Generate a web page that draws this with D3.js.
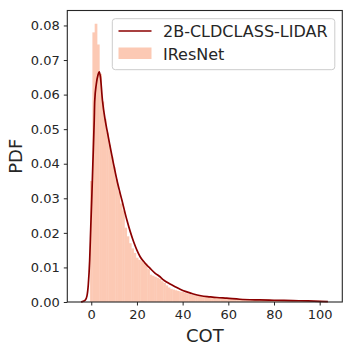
<!DOCTYPE html>
<html><head><meta charset="utf-8">
<script src="https://cdn.jsdelivr.net/npm/d3@7"></script>
<style>body{margin:0;background:#fff;} svg{display:block;}</style>
</head><body>
<svg id="chart" width="352" height="352"></svg>
<script>
// Histogram (IResNet): bins of width 1 centered on integer COT values 0..100
const histCenters = d3.range(0, 101);
const histHeights = [
 0.035,0.078,0.0805,0.0745,0.066,0.058,0.053,0.049,0.0455,0.042,
 0.039,0.0355,0.032,0.0285,0.0265,0.0215,0.019,0.017,0.0155,0.0142,
 0.0128,0.0122,0.0118,0.0114,0.0111,0.0095,0.0079,0.0076,0.0073,0.007,
 0.0067,0.006,0.0055,0.0048,0.0042,0.0038,0.0036,0.0034,0.0032,0.003,
 0.0029,0.0027,0.0025,0.0023,0.0021,0.002,0.0019,0.0018,0.0017,0.0016,
 0.0015,0.0014,0.0014,0.0013,0.0013,0.0012,0.0012,0.0011,0.0011,0.0011,
 0.001,0.001,0.001,0.001,0.0009,0.0009,0.0009,0.0009,0.0008,0.0008,
 0.0008,0.0008,0.0008,0.0007,0.0007,0.0007,0.0007,0.0007,0.0007,0.0006,
 0.0006,0.0006,0.0006,0.0006,0.0006,0.0006,0.0005,0.0005,0.0005,0.0005,
 0.0005,0.0005,0.0005,0.0005,0.0004,0.0004,0.0004,0.0004,0.0004,0.0004,0.0004
];
// KDE line (2B-CLDCLASS-LIDAR)
const kdeX = [-4.5,-3.5,-2.6,-1.9,-1.3,-0.7,-0.2,0.2,0.7,1.3,1.5,2.2,3.0,3.5,4.0,4.9,6.1,6.9,8.3,9.7,11.5,13.4,15.6,18.5,21.4,23.5,25.8,28,30.1,31.6,34.5,36.5,38.9,41.5,44.7,48,52,55,59.3,65,73.8,80,88.2,95,100,103.6];
const kdeY = [0,0.0002,0.0006,0.0017,0.005,0.012,0.022,0.0295,0.040,0.0526,0.058,0.063,0.0658,0.0666,0.0652,0.0583,0.0526,0.0497,0.0448,0.0401,0.0345,0.0295,0.0237,0.0175,0.0131,0.0113,0.0097,0.0083,0.0073,0.0064,0.0052,0.0045,0.0037,0.0030,0.0023,0.0018,0.0015,0.0013,0.0011,0.0008,0.0006,0.0005,0.0004,0.0003,0.0002,0.0001];
const xTicks = [0,20,40,60,80,100];
const yTicks = [0,0.01,0.02,0.03,0.04,0.05,0.06,0.07,0.08];
const seriesNames = ["2B-CLDCLASS-LIDAR","IResNet"];

const svg = d3.select("#chart");
const L = 67.3, T = 10.5, R = 342.3, B = 302;
const x = d3.scaleLinear().domain([-10.49, 109.9]).range([L, R]);
const y = d3.scaleLinear().domain([0, 0.08433]).range([B, T]);

const font = "'DejaVu Sans', sans-serif";
const histColor = "#fcc9b4";
const lineColor = "#8b0000";

// histogram bars
svg.append("g").selectAll("rect").data(histCenters).join("rect")
  .attr("x", d => x(d - 0.5))
  .attr("width", d => x(d + 0.5) - x(d - 0.5) + 0.4)
  .attr("y", (d, i) => y(histHeights[i]))
  .attr("height", (d, i) => y(0) - y(histHeights[i]))
  .attr("fill", histColor);

// KDE line
const pts = kdeX.map((v, i) => [v, kdeY[i]]);
svg.append("path").datum(pts)
  .attr("d", d3.line().x(d => x(d[0])).y(d => y(d[1])).curve(d3.curveMonotoneX))
  .attr("fill", "none").attr("stroke", lineColor).attr("stroke-width", 1.7);

// axes
const xAxis = svg.append("g").attr("transform", `translate(0,${B})`)
  .call(d3.axisBottom(x).tickValues(xTicks).tickSize(3.5).tickPadding(4).tickFormat(d3.format("d")));
const yAxis = svg.append("g").attr("transform", `translate(${L},0)`)
  .call(d3.axisLeft(y).tickValues(yTicks).tickSize(3.5).tickPadding(4).tickFormat(d3.format(".2f")));
[xAxis, yAxis].forEach(g => {
  g.select(".domain").remove();
  g.selectAll(".tick line").attr("stroke", "#262626").attr("stroke-width", 1);
  g.selectAll(".tick text").attr("font-family", font).attr("font-size", 13).attr("fill", "#262626");
});
// spines
svg.append("rect").attr("x", L).attr("y", T).attr("width", R - L).attr("height", B - T)
  .attr("fill", "none").attr("stroke", "#262626").attr("stroke-width", 1.1);

// axis labels
svg.append("text").attr("x", (L + R) / 2).attr("y", 342).attr("text-anchor", "middle")
  .attr("font-family", font).attr("font-size", 18).attr("fill", "#262626").text("COT");
svg.append("text").attr("transform", `translate(22,${(T + B) / 2}) rotate(-90)`).attr("text-anchor", "middle")
  .attr("font-family", font).attr("font-size", 18).attr("fill", "#262626").text("PDF");

// legend
const lg = svg.append("g");
lg.append("rect").attr("x", 112.3).attr("y", 18.7).attr("width", 222.5).attr("height", 51).attr("rx", 3)
  .attr("fill", "#fff").attr("fill-opacity", 0.8).attr("stroke", "#cccccc").attr("stroke-width", 1);
lg.append("line").attr("x1", 118.5).attr("x2", 151.5).attr("y1", 31).attr("y2", 31)
  .attr("stroke", lineColor).attr("stroke-width", 1.7);
lg.append("rect").attr("x", 118.5).attr("y", 47.5).attr("width", 33).attr("height", 11.5).attr("fill", histColor);
lg.append("text").attr("x", 163).attr("y", 37.3).attr("font-family", font).attr("font-size", 16).attr("fill", "#262626").text(seriesNames[0]);
lg.append("text").attr("x", 163).attr("y", 59.5).attr("font-family", font).attr("font-size", 16).attr("fill", "#262626").text(seriesNames[1]);
</script>
</body></html>
